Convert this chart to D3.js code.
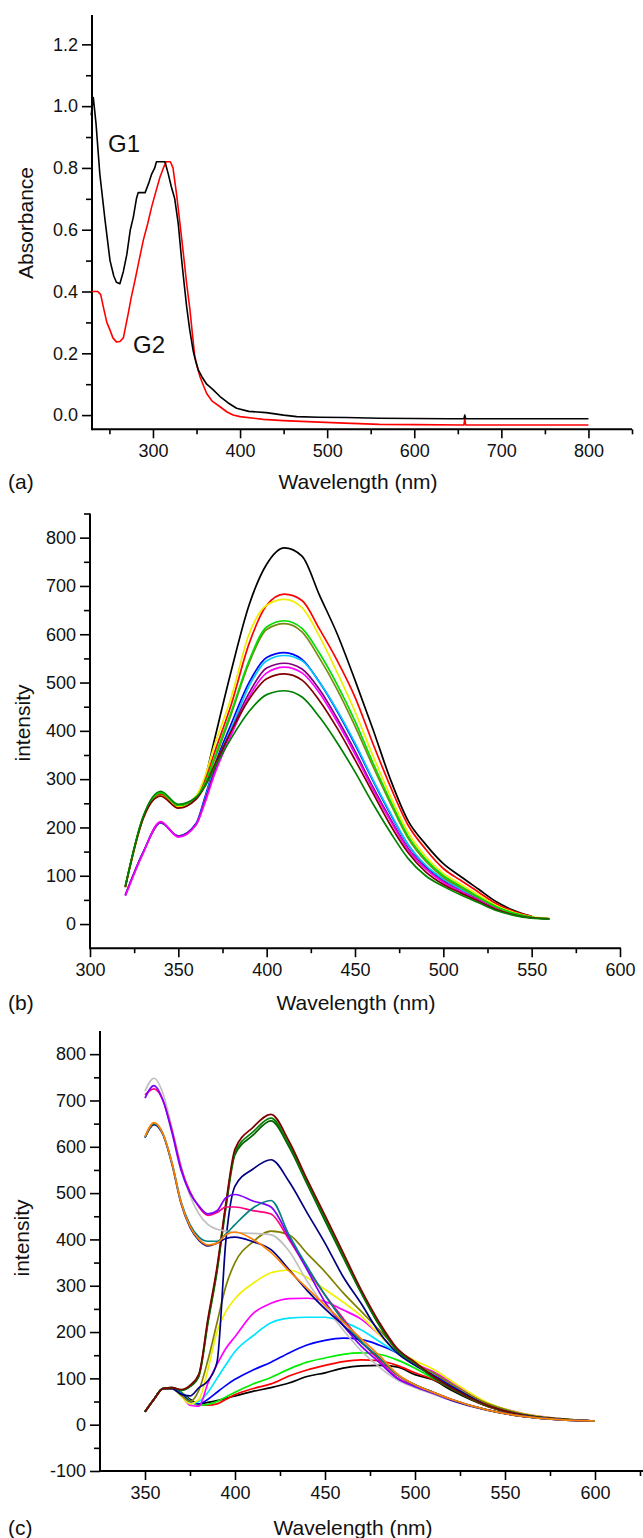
<!DOCTYPE html>
<html><head><meta charset="utf-8">
<script src="https://cdn.jsdelivr.net/npm/d3@7"></script>
<style>
body{margin:0;background:#fff}
svg{display:block}
</style>
</head><body>
<svg id="chart" width="643" height="1538"></svg>
<script>
// ---------------- DATA: panel (a) absorbance ----------------
const g1Wavelength = [229,231.5,234.6,239,245,250.7,255,258,262,266,270,274,277.4,281,283,287,291,295,298.5,302,304,309,313.8,317.6,321,325,329,333,336,338.7,342,346,349,352,356,361.7,368,377,386,396,410,430,450,465,490,522,560,600,640,657,658,659,680,720,760,800];
const g1Absorbance = [0.97,1.028,0.944,0.78,0.63,0.50,0.45,0.43,0.425,0.465,0.52,0.60,0.64,0.70,0.72,0.72,0.72,0.75,0.78,0.80,0.82,0.82,0.82,0.78,0.74,0.70,0.62,0.50,0.42,0.35,0.28,0.21,0.175,0.146,0.125,0.10,0.085,0.06,0.04,0.022,0.012,0.008,0.0,-0.005,-0.007,-0.008,-0.01,-0.011,-0.012,-0.012,0.0,-0.012,-0.012,-0.012,-0.012,-0.012];
const g2Wavelength = [230,236.6,240,243,247,250.7,254,258,262,266,271.7,275,279.4,284,289,294,298.5,303,308,312,315,320,323,327,331,335,338.5,342.5,345,348,351,354,358,361.7,368,377,385,392,400,426.7,450,484,520,560,600,657,658,659,700,750,800];
const g2Absorbance = [0.40,0.40,0.39,0.35,0.30,0.275,0.25,0.237,0.238,0.25,0.33,0.38,0.437,0.50,0.567,0.62,0.674,0.72,0.77,0.80,0.82,0.82,0.80,0.717,0.62,0.52,0.43,0.34,0.27,0.19,0.155,0.124,0.095,0.07,0.045,0.027,0.01,0.0,-0.005,-0.014,-0.018,-0.022,-0.026,-0.03,-0.031,-0.032,-0.012,-0.032,-0.032,-0.032,-0.032];
const aXTicks = [300,400,500,600,700,800];
const aYTicks = [0,0.2,0.4,0.6,0.8,1.0,1.2];
const aSeriesLabels = ["G1","G2"];

// ---------------- DATA: panel (b) intensity ----------------
const bWavelength = [320,330,340,350,360,365,370,380,390,400,410,420,430,440,450,460,470,480,490,500,510,520,530,540,550,560];
const bBlack     = [78,218,270,243,262,300,375,525,660,745,779,762,680,600,505,405,300,214,165,125,98,72,46,28,16,null];
const bRed       = [76,218,268,242,262,295,350,455,580,660,683,670,610,545,470,375,285,205,155,115,90,66,42,26,16,null];
const bYellow    = [76,218,266,242,265,305,365,470,600,660,672,655,595,520,440,350,265,190,140,105,82,60,38,24,15,12];
const bGreen     = [78,220,272,246,262,290,340,440,545,615,628,612,560,495,420,335,255,182,134,100,78,56,36,22,14,11];
const bOlive     = [78,220,272,246,262,288,335,435,540,610,622,605,550,485,410,328,250,178,130,97,75,54,35,22,14,11];
const bBlue      = [60,148,210,182,208,262,322,415,500,552,562,548,500,440,372,298,228,164,120,92,72,52,34,21,14,11];
const bCyan      = [60,148,210,182,206,258,318,405,492,545,556,545,500,442,375,300,230,165,122,93,72,52,34,21,14,11];
const bPurple    = [60,148,210,182,206,255,312,400,478,530,540,528,485,425,358,285,218,157,116,88,68,50,32,20,13,11];
const bMagenta   = [58,146,212,180,205,250,305,392,470,520,532,520,478,418,352,280,214,154,114,86,67,49,31,20,13,11];
const bBrown     = [77,218,265,240,258,285,325,400,465,508,518,505,462,405,340,272,205,148,108,82,64,47,30,19,13,11];
const bDarkGreen = [78,222,275,248,262,285,320,385,440,475,483,470,428,375,315,250,190,136,100,78,60,44,28,18,12,10];
const bXTicks = [300,350,400,450,500,550,600];
const bYTicks = [0,100,200,300,400,500,600,700,800];

// ---------------- DATA: panel (c) intensity ----------------
const cWavelength = [350,355,360,365,370,375,380,385,390,395,400,410,420,430,440,450,460,470,480,490,500,510,520,540,560,580,600];
const cBlack   = [28,55,78,78,70,55,45,48,52,57,62,72,80,90,104,112,122,127,128,125,108,97,75,40,20,12,8];
const cRed     = [28,55,78,78,70,52,42,42,45,55,65,78,88,105,118,128,136,140,138,128,112,98,78,40,20,12,8];
const cGreen   = [28,55,78,78,70,52,42,44,50,60,70,88,102,120,135,144,152,155,152,140,122,100,80,42,21,12,8];
const cBlue    = [28,55,78,78,68,50,45,55,70,85,98,118,135,155,172,182,187,184,172,155,130,108,85,44,22,12,8];
const cCyan    = [28,55,78,78,66,45,50,70,100,130,158,192,220,230,232,232,222,205,180,155,130,112,90,46,23,13,8];
const cMagenta = [28,55,78,78,64,42,40,90,130,165,190,240,262,272,273,266,248,228,195,160,132,115,92,47,24,13,8];
const cYellow  = [28,55,78,78,62,45,55,120,200,245,272,305,328,334,318,292,265,235,195,160,138,120,95,48,24,13,8];
const cOlive   = [28,55,78,78,64,50,75,140,220,300,350,395,418,410,370,330,285,245,205,165,132,112,88,46,23,13,8];
const cNavy    = [28,55,78,78,66,62,80,95,135,400,515,552,572,525,458,392,320,262,200,155,128,105,82,42,21,12,8];
const cMaroon  = [28,55,78,80,76,85,110,230,340,480,595,642,670,612,530,452,372,292,222,165,135,105,80,42,20,12,8];
const cGreen2  = [28,55,78,80,75,84,108,225,335,475,588,632,662,605,525,446,366,288,218,162,133,103,79,41,20,12,8];
const cGreen3  = [28,55,78,80,74,82,105,220,330,470,583,625,656,600,520,440,362,285,215,160,132,102,78,41,20,12,8];
const cPurple  = [705,732,700,630,550,500,472,455,462,490,497,483,470,405,335,265,215,170,135,100,82,68,53,32,18,11,8];
const cPink    = [712,725,700,635,555,503,470,452,458,470,470,462,455,400,338,280,230,180,140,102,84,70,55,32,18,11,8];
const cGray    = [720,748,715,640,560,495,455,432,422,418,415,413,410,375,310,255,205,160,125,97,80,66,52,31,18,11,8];
const cOrange  = [622,652,628,565,480,428,400,388,392,410,416,400,372,332,295,258,222,186,150,110,86,70,55,32,18,11,8];
const cTeal    = [620,650,628,565,482,432,405,396,396,412,432,468,484,410,342,280,225,180,145,108,86,70,55,32,18,11,8];
const cNavy2   = [620,648,626,562,478,426,398,386,392,402,405,395,378,335,290,250,215,178,145,108,86,70,54,32,18,11,8];
const cXTicks = [350,400,450,500,550,600];
const cYTicks = [-100,0,100,200,300,400,500,600,700,800];

// ---------------- STYLES ----------------
const FONT = "'Liberation Sans', Arial, Helvetica, sans-serif";
const bSeries = [
  [bBlue,"#0000ff"],[bCyan,"#00c8ff"],[bPurple,"#800080"],[bMagenta,"#ff00ff"],
  [bBlack,"#000000"],[bRed,"#ff0000"],[bYellow,"#eeee00"],[bOlive,"#7a8a10"],[bGreen,"#00dd00"],
  [bBrown,"#800000"],[bDarkGreen,"#008000"]
];
const cSeries = [
  [cBlack,"#000000"],[cRed,"#ff0000"],[cGreen,"#00ee00"],[cBlue,"#0000ff"],[cCyan,"#00e5ff"],
  [cMagenta,"#ff00ff"],[cYellow,"#f0f000"],[cOlive,"#808000"],[cNavy,"#000080"],
  [cGreen3,"#006000"],[cGreen2,"#008000"],[cMaroon,"#800000"],
  [cGray,"#c0c0c0"],[cPink,"#ff0080"],[cPurple,"#8000ff"],[cNavy2,"#000090"],[cTeal,"#008080"],[cOrange,"#ff8000"]
];

const svg = d3.select("#chart");
svg.append("rect").attr("width",643).attr("height",1538).attr("fill","#fff");

function drawAxes(g, x, y, o) {
  g.append("g").attr("transform",`translate(0,${o.xAxisY})`)
    .call(d3.axisBottom(x).tickValues(o.xMinor).tickSize(5).tickSizeOuter(0).tickFormat(""))
    .call(s=>s.select(".domain").remove())
    .selectAll("line").attr("stroke-width",1.6);
  g.append("g").attr("transform",`translate(${o.yAxisX},0)`)
    .call(d3.axisLeft(y).tickValues(o.yMinor).tickSize(6).tickSizeOuter(0).tickFormat(""))
    .call(s=>s.select(".domain").remove())
    .selectAll("line").attr("stroke-width",1.6);
  const xa = g.append("g").attr("transform",`translate(0,${o.xAxisY})`)
    .call(d3.axisBottom(x).tickValues(o.xMajor).tickSize(9).tickSizeOuter(0).tickPadding(6).tickFormat(o.xFmt));
  const ya = g.append("g").attr("transform",`translate(${o.yAxisX},0)`)
    .call(d3.axisLeft(y).tickValues(o.yMajor).tickSize(10).tickSizeOuter(0).tickPadding(4).tickFormat(o.yFmt));
  [xa,ya].forEach(a=>{
    a.attr("font-family",FONT).attr("font-size",18);
    a.selectAll("text").attr("fill","#111");
    a.selectAll("line").attr("stroke-width",1.6);
    a.select(".domain").remove();
  });
  g.append("line").attr("x1",o.yAxisX).attr("x2",o.xEnd).attr("y1",o.xAxisY).attr("y2",o.xAxisY)
    .attr("stroke","#000").attr("stroke-width",2);
  g.append("line").attr("x1",o.yAxisX).attr("x2",o.yAxisX).attr("y1",o.yTop).attr("y2",o.xAxisY+1)
    .attr("stroke","#000").attr("stroke-width",2);
  g.append("text").attr("x",o.xTitleX).attr("y",o.titleY).attr("dy","0.35em")
    .attr("text-anchor","middle").attr("font-family",FONT).attr("font-size",21).attr("fill","#111")
    .text("Wavelength (nm)");
  g.append("text").attr("x",8).attr("y",o.titleY).attr("dy","0.35em")
    .attr("font-family",FONT).attr("font-size",21).attr("fill","#111").text(o.tag);
  g.append("text").attr("transform",`translate(${o.yTitleX},${o.yTitleY}) rotate(-90)`).attr("dy","0.35em")
    .attr("text-anchor","middle").attr("font-family",FONT).attr("font-size",21).attr("fill","#111")
    .text(o.yTitle);
}

const intFmt = d => String(d);
function range(a,b,s){const r=[];for(let v=a;v<=b+1e-9;v+=s)r.push(+v.toFixed(3));return r;}

// ---------------- PANEL (a) ----------------
{
  const x = d3.scaleLinear().domain([230,850]).range([92,632]);
  const y = d3.scaleLinear().domain([-0.046,1.295]).range([429.3,15]);
  const g = svg.append("g");
  drawAxes(g,x,y,{
    xAxisY:429.3, yAxisX:92, xEnd:632, yTop:15,
    xMajor:aXTicks, xMinor:range(250,850,100), yMajor:aYTicks, yMinor:range(0.1,1.1,0.2),
    xFmt:intFmt, yFmt:d3.format(".1f"),
    xTitleX:358, titleY:482, tag:"(a)", yTitle:"Absorbance", yTitleX:26, yTitleY:223
  });
  const line = d3.line().x(d=>x(d[0])).y(d=>y(d[1]));
  g.append("path").datum(d3.zip(g2Wavelength,g2Absorbance)).attr("d",line)
    .attr("fill","none").attr("stroke","#ff0000").attr("stroke-width",1.6).attr("stroke-linejoin","round");
  g.append("path").datum(d3.zip(g1Wavelength,g1Absorbance)).attr("d",line)
    .attr("fill","none").attr("stroke","#000").attr("stroke-width",1.6).attr("stroke-linejoin","round");
  g.append("text").attr("x",108).attr("y",152).attr("font-family",FONT).attr("font-size",24).attr("fill","#111").text(aSeriesLabels[0]);
  g.append("text").attr("x",133).attr("y",353).attr("font-family",FONT).attr("font-size",24).attr("fill","#111").text(aSeriesLabels[1]);
}

// ---------------- PANEL (b) ----------------
{
  const x = d3.scaleLinear().domain([300,600]).range([90,620]);
  const y = d3.scaleLinear().domain([-50,850]).range([948.2,513.5]);
  const g = svg.append("g");
  drawAxes(g,x,y,{
    xAxisY:948.2, yAxisX:90, xEnd:621, yTop:513.5,
    xMajor:bXTicks, xMinor:range(325,575,50), yMajor:bYTicks, yMinor:range(50,850,100),
    xFmt:intFmt, yFmt:intFmt,
    xTitleX:356, titleY:1003, tag:"(b)", yTitle:"intensity", yTitleX:23, yTitleY:723
  });
  const line = d3.line().defined(d=>d[1]!=null).x(d=>x(d[0])).y(d=>y(d[1])).curve(d3.curveMonotoneX);
  bSeries.forEach(([vals,col])=>{
    g.append("path").datum(d3.zip(bWavelength,vals)).attr("d",line)
      .attr("fill","none").attr("stroke",col).attr("stroke-width",1.7).attr("stroke-linejoin","round");
  });
}

// ---------------- PANEL (c) ----------------
{
  const x = d3.scaleLinear().domain([325,625]).range([100,640]);
  const y = d3.scaleLinear().domain([-100,850]).range([1471,1031]);
  const g = svg.append("g");
  drawAxes(g,x,y,{
    xAxisY:1471, yAxisX:100, xEnd:643, yTop:1031,
    xMajor:cXTicks, xMinor:range(375,625,50), yMajor:cYTicks, yMinor:range(-50,750,100),
    xFmt:intFmt, yFmt:intFmt,
    xTitleX:353, titleY:1528, tag:"(c)", yTitle:"intensity", yTitleX:22, yTitleY:1238
  });
  const line = d3.line().x(d=>x(d[0])).y(d=>y(d[1])).curve(d3.curveMonotoneX);
  cSeries.forEach(([vals,col])=>{
    g.append("path").datum(d3.zip(cWavelength,vals)).attr("d",line)
      .attr("fill","none").attr("stroke",col).attr("stroke-width",1.7).attr("stroke-linejoin","round");
  });
}
</script>
</body></html>
